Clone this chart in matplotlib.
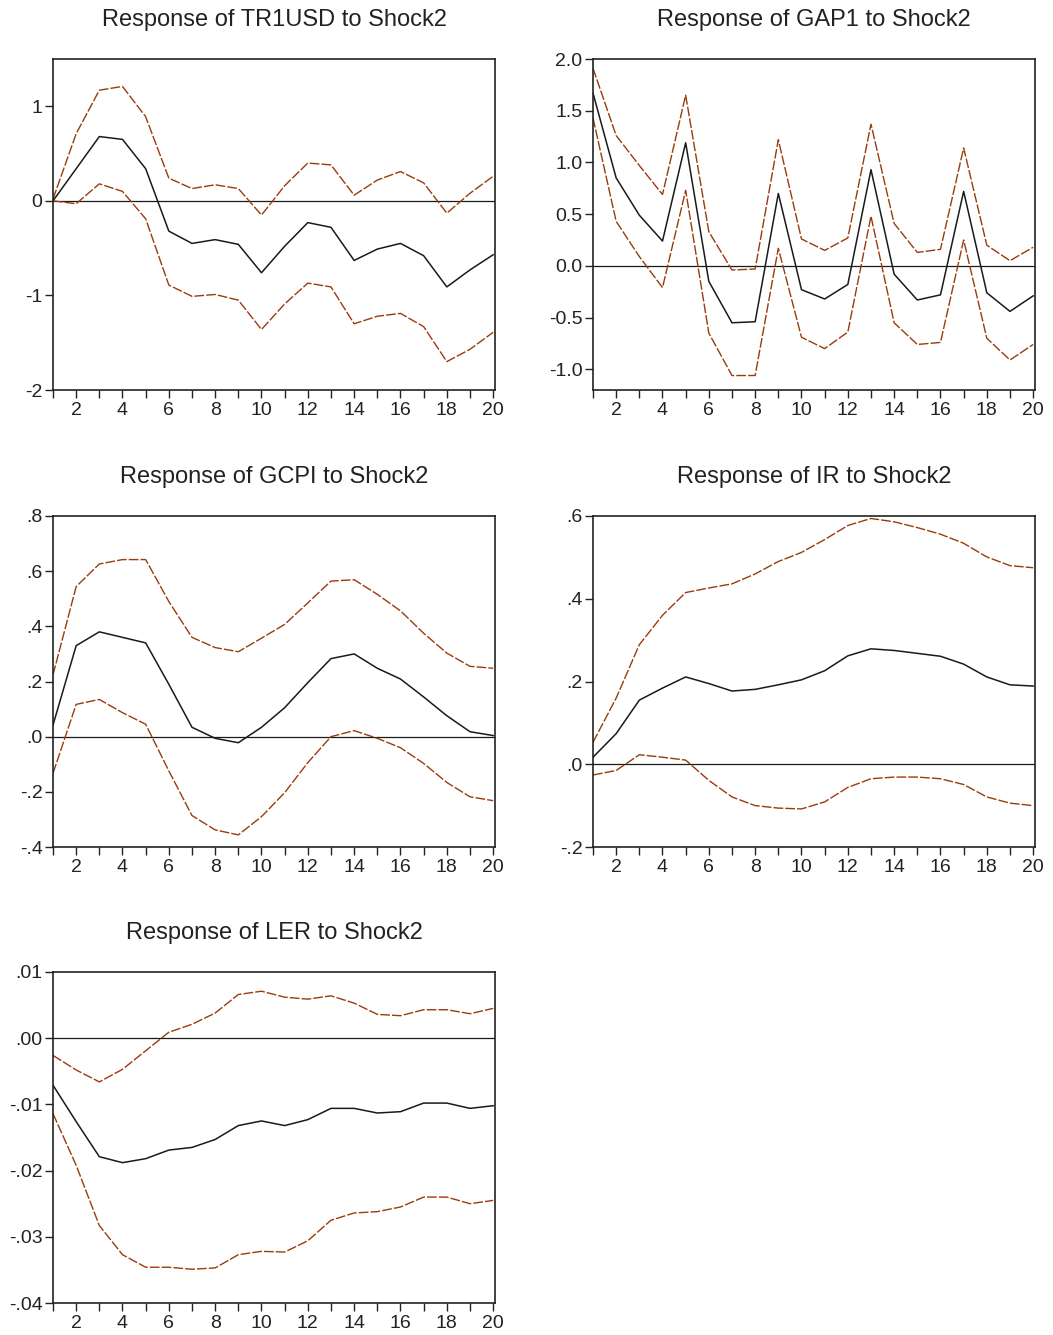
import numpy as np
import matplotlib
matplotlib.use('Agg')
import matplotlib.pyplot as plt

plt.rcParams['font.family'] = ['Liberation Sans', 'DejaVu Sans']

# ---- Data ----
horizon = np.arange(1, 21)

tr1usd_mid = [0.00, 0.34, 0.68, 0.65, 0.34, -0.32, -0.45, -0.41, -0.46, -0.76,
              -0.48, -0.23, -0.28, -0.63, -0.51, -0.45, -0.58, -0.91, -0.73, -0.57]
tr1usd_hi = [0.02, 0.71, 1.17, 1.21, 0.89, 0.24, 0.13, 0.17, 0.13, -0.15,
             0.16, 0.40, 0.38, 0.06, 0.22, 0.31, 0.19, -0.13, 0.08, 0.26]
tr1usd_lo = [0.00, -0.03, 0.18, 0.10, -0.19, -0.89, -1.01, -0.99, -1.05, -1.36,
             -1.09, -0.87, -0.91, -1.30, -1.22, -1.19, -1.33, -1.70, -1.57, -1.39]

gap1_mid = [1.67, 0.85, 0.49, 0.24, 1.19, -0.15, -0.55, -0.54, 0.70, -0.23,
            -0.32, -0.18, 0.93, -0.08, -0.33, -0.28, 0.72, -0.26, -0.44, -0.29]
gap1_hi = [1.91, 1.26, 0.97, 0.69, 1.65, 0.33, -0.04, -0.03, 1.22, 0.26,
           0.15, 0.27, 1.37, 0.41, 0.13, 0.16, 1.14, 0.20, 0.05, 0.18]
gap1_lo = [1.43, 0.43, 0.09, -0.21, 0.73, -0.65, -1.06, -1.06, 0.17, -0.69,
           -0.80, -0.64, 0.48, -0.55, -0.76, -0.74, 0.25, -0.70, -0.91, -0.76]

gcpi_mid = [0.042, 0.33, 0.38, 0.36, 0.34, 0.19, 0.034, -0.006, -0.022, 0.034,
            0.105, 0.196, 0.283, 0.30, 0.248, 0.209, 0.144, 0.076, 0.018, 0.004]
gcpi_hi = [0.224, 0.544, 0.626, 0.642, 0.642, 0.49, 0.36, 0.323, 0.308, 0.357,
           0.407, 0.485, 0.564, 0.569, 0.516, 0.456, 0.375, 0.303, 0.255, 0.248]
gcpi_lo = [-0.133, 0.117, 0.135, 0.087, 0.045, -0.124, -0.286, -0.338, -0.356, -0.29,
           -0.203, -0.094, 0.0, 0.022, -0.006, -0.040, -0.097, -0.166, -0.218, -0.232]

ir_mid = [0.017, 0.074, 0.155, 0.184, 0.211, 0.195, 0.177, 0.181, 0.192, 0.204,
          0.226, 0.262, 0.279, 0.275, 0.268, 0.261, 0.242, 0.211, 0.192, 0.189]
ir_hi = [0.053, 0.16, 0.289, 0.36, 0.415, 0.426, 0.436, 0.46, 0.49, 0.512,
         0.543, 0.577, 0.594, 0.586, 0.572, 0.556, 0.534, 0.501, 0.48, 0.475]
ir_lo = [-0.026, -0.015, 0.023, 0.017, 0.01, -0.039, -0.079, -0.10, -0.106, -0.108,
         -0.091, -0.056, -0.035, -0.031, -0.031, -0.035, -0.049, -0.079, -0.094, -0.10]

ler_mid = [-0.0071, -0.0126, -0.0179, -0.0188, -0.0182, -0.0169, -0.0165, -0.0153, -0.0132, -0.0125,
           -0.0132, -0.0123, -0.0106, -0.0106, -0.0113, -0.0111, -0.0098, -0.0098, -0.0106, -0.0102]
ler_hi = [-0.0026, -0.0048, -0.0066, -0.0047, -0.0019, 0.0009, 0.0021, 0.0038, 0.0066, 0.0071,
          0.0062, 0.0059, 0.0064, 0.0053, 0.0036, 0.0034, 0.0043, 0.0043, 0.0037, 0.0045]
ler_lo = [-0.0114, -0.0192, -0.0283, -0.0327, -0.0346, -0.0346, -0.0349, -0.0347, -0.0327, -0.0322,
          -0.0323, -0.0306, -0.0275, -0.0264, -0.0262, -0.0255, -0.0240, -0.0240, -0.0250, -0.0245]

titles = ['Response of TR1USD to Shock2', 'Response of GAP1 to Shock2',
          'Response of GCPI to Shock2', 'Response of IR to Shock2',
          'Response of LER to Shock2']

tr1usd_yticks = [-2, -1, 0, 1]
tr1usd_ylabels = ['-2', '-1', '0', '1']
gap1_yticks = [-1.0, -0.5, 0.0, 0.5, 1.0, 1.5, 2.0]
gap1_ylabels = ['-1.0', '-0.5', '0.0', '0.5', '1.0', '1.5', '2.0']
gcpi_yticks = [-0.4, -0.2, 0.0, 0.2, 0.4, 0.6, 0.8]
gcpi_ylabels = ['-.4', '-.2', '.0', '.2', '.4', '.6', '.8']
ir_yticks = [-0.2, 0.0, 0.2, 0.4, 0.6]
ir_ylabels = ['-.2', '.0', '.2', '.4', '.6']
ler_yticks = [-0.04, -0.03, -0.02, -0.01, 0.00, 0.01]
ler_ylabels = ['-.04', '-.03', '-.02', '-.01', '.00', '.01']

xticks_major = list(range(2, 21, 2))

# ---- Figure ----
W, H = 1053, 1335
fig = plt.figure(figsize=(W / 100, H / 100), dpi=100)
fig.patch.set_facecolor('white')

BAND = '#9a3b0c'
MID = '#1a1a1a'

# axes boxes in pixels: (left, top)
AW, AH = 442, 331
boxes = [(53, 59), (593, 59), (53, 516), (593, 516), (53, 972)]

panels = [
    (tr1usd_mid, tr1usd_hi, tr1usd_lo, (-2, 1.5), tr1usd_yticks, tr1usd_ylabels),
    (gap1_mid, gap1_hi, gap1_lo, (-1.2, 2.0), gap1_yticks, gap1_ylabels),
    (gcpi_mid, gcpi_hi, gcpi_lo, (-0.4, 0.8), gcpi_yticks, gcpi_ylabels),
    (ir_mid, ir_hi, ir_lo, (-0.2, 0.6), ir_yticks, ir_ylabels),
    (ler_mid, ler_hi, ler_lo, (-0.04, 0.01), ler_yticks, ler_ylabels),
]

for (left, top), title, (mid, hi, lo, ylim, yt, yl) in zip(boxes, titles, panels):
    ax = fig.add_axes([left / W, 1 - (top + AH) / H, AW / W, AH / H])
    ax.axhline(0, color=MID, lw=0.9, zorder=1)
    ax.plot(horizon, mid, color=MID, lw=1.1, zorder=3)
    for band in (hi, lo):
        ln, = ax.plot(horizon, band, color=BAND, lw=1.0, zorder=2)
        ln.set_dashes([7, 1.5])

    ax.set_xlim(1, 20.08)
    ax.set_ylim(*ylim)
    ax.set_xticks(xticks_major)
    ax.set_xticks(horizon, minor=True)
    ax.set_yticks(yt)
    ax.set_yticklabels(yl)
    ax.tick_params(axis='both', which='both', direction='out', length=5.5,
                   width=1.0, color='#222222', labelsize=14, labelcolor='#222222')
    ax.tick_params(axis='x', pad=3)
    ax.tick_params(axis='y', pad=2)
    for sp in ax.spines.values():
        sp.set_linewidth(1.2)
        sp.set_color('#222222')
    ax.set_title(title, fontsize=17, color='#222222', pad=24)

plt.savefig('out.png', dpi=100, facecolor='white')
plt.close()
